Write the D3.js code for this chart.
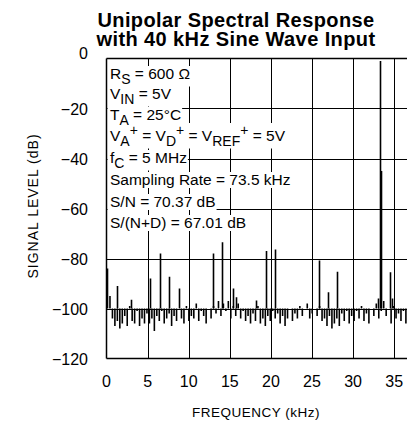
<!DOCTYPE html>
<html>
<head>
<meta charset="utf-8">
<title>Unipolar Spectral Response</title>
<style>
  body { margin: 0; background: #fff; }
  text { font-family: "Liberation Sans", Arial, sans-serif; fill: #000; }
</style>
</head>
<body>
<svg width="407" height="427"></svg>
<script src="https://d3js.org/d3.v7.min.js"></script>
<script>
// chart data
var title = ["Unipolar Spectral Response", "with 40 kHz Sine Wave Input"];
var yTicks = [0, -20, -40, -60, -80, -100, -120];
var xTicks = [0, 5, 10, 15, 20, 25, 30, 35];
var binKHz = 0.3;   // spacing of the noise floor bins
// noise floor, one value per bin (dB)
var floorDb = [-84, -95, -104, -107, -105, -108, -106,
               -103, -107, -99, -105, -106, -101, -107, -104, -106, -102,
               -106, -104, -109, -103, -105, -101, -106, -104, -102, -107, -103, -105, -100, -104, -106, -99, -105,
               -103, -104, -98, -105, -101, -103, -106, -100, -104, -99, -102, -97, -103, -98, -101, -97, -104,
               -99, -103, -98, -104, -101, -105, -103, -106, -102, -105, -99, -106, -104, -107, -103, -105,
               -101, -104, -102, -106, -103, -107, -104, -100, -105, -102, -104, -99, -103, -100, -98, -104, -102,
               -100, -103, -99, -105, -104, -107, -103, -108, -106, -104, -107, -102, -105, -101, -106, -103, -105,
               -101, -104, -99, -105, -102, -106, -100, -103, -98, -104, -101, -97, -103, -100, -106, -99, -104, -102, -105, -101, -106, -104];
// harmonics, spurs and the fundamental
var spurFreq = [1.24, 3.0, 5.3, 6.5, 7.6, 8.8, 13.0, 14.1, 15.35, 15.7, 18.2,
                19.4, 20.5, 25.85, 27.0, 28.1, 33.0, 33.3, 33.45, 34.5, 34.7];
var spurDb   = [-91, -96.5, -88, -78, -87.3, -92, -78, -73.5, -92, -95.5, -96.8,
                -77, -76.4, -80.8, -93.5, -85.3, -96, -1, -45, -85.5, -96];
var notes = [
  [["R", 0], ["S", 4.5], [" = 600 \u03A9", 0]],
  [["V", 0], ["IN", 4.5], [" = 5V", 0]],
  [["T", 0], ["A", 4.5], [" = 25\u00B0C", 0]],
  [["V", 0], ["A", 4.5], ["+", -6], [" = V", 0], ["D", 4.5], ["+", -6], [" = V", 0], ["REF", 4.5], ["+", -6], [" = 5V", 0]],
  [["f", 0], ["C", 4.5], [" = 5 MHz", 0]],
  [["Sampling Rate = 73.5 kHz", 0]],
  [["S/N = 70.37 dB", 0]],
  [["S/(N+D) = 67.01 dB", 0]]
];
var noteBaselines = [79, 99, 120, 141, 163, 185, 207, 228];

var svg = d3.select("svg");
var plotLeft = 106.5, plotTop = 58.5, plotBottom = 358.5;

var x = d3.scaleLinear().domain([0, 36.75]).range([plotLeft, 408.6]);
var y = d3.scaleLinear().domain([0, -120]).range([plotTop, plotBottom]);
function px(v) { return Math.round(v) + 0.5; }

// title
svg.selectAll("text.title")
  .data(title)
  .enter()
  .append("text")
  .attr("class", "title")
  .attr("x", 236)
  .attr("y", function(d, i) { return 26.5 + i * 19.5; })
  .attr("text-anchor", "middle")
  .style("font-size", "20px")
  .style("letter-spacing", "0.4px")
  .style("font-weight", "bold")
  .text(function(d) { return d; });

// grid
var grid = svg.append("g").attr("stroke", "#000").attr("stroke-width", 1)
  .attr("shape-rendering", "crispEdges");
grid.selectAll("line.h")
  .data(yTicks.filter(function(d) { return d < 0 && d > -120; }))
  .enter().append("line")
  .attr("x1", plotLeft).attr("x2", 407)
  .attr("y1", function(d) { return px(y(d)); })
  .attr("y2", function(d) { return px(y(d)); });
grid.selectAll("line.v")
  .data(xTicks.filter(function(d) { return d > 0; }))
  .enter().append("line")
  .attr("y1", plotTop).attr("y2", plotBottom)
  .attr("x1", function(d) { return px(x(d)); })
  .attr("x2", function(d) { return px(x(d)); });

// spectrum stems from the -100 dB line
var stems = svg.append("g").attr("stroke", "#000").attr("stroke-width", 1.6);
stems.selectAll("line.n")
  .data(floorDb)
  .enter().append("line")
  .attr("x1", function(d, i) { return x(i * binKHz) + 1; })
  .attr("x2", function(d, i) { return x(i * binKHz) + 1; })
  .attr("y1", y(-100))
  .attr("y2", function(d) { return y(d); });
stems.selectAll("line.s")
  .data(spurFreq)
  .enter().append("line")
  .attr("x1", function(d) { return px(x(d)); })
  .attr("x2", function(d) { return px(x(d)); })
  .attr("y1", y(-100))
  .attr("y2", function(d, i) { return y(spurDb[i]); });

// annotation block, white box behind each line
var boxLayer = svg.append("g");
var noteLayer = svg.append("g");
notes.forEach(function(parts, i) {
  var t = noteLayer.append("text")
    .attr("x", 110)
    .attr("y", noteBaselines[i])
    .style("font-size", "15.5px");
  var prev = 0;
  parts.forEach(function(p) {
    t.append("tspan")
      .attr("dy", p[1] - prev)
      .style("font-size", p[1] === 0 ? null : "14px")
      .text(p[0]);
    prev = p[1];
  });
  var b = t.node().getBBox();
  boxLayer.append("rect")
    .attr("fill", "#fff")
    .attr("x", plotLeft + 1)
    .attr("y", b.y + 1)
    .attr("width", b.x + b.width - plotLeft)
    .attr("height", b.height - 1);
});

// frame
var frame = svg.append("g").attr("stroke", "#000").attr("stroke-width", 1.5).attr("fill", "none");
frame.append("line").attr("x1", plotLeft).attr("x2", plotLeft).attr("y1", plotTop).attr("y2", plotBottom);
frame.append("line").attr("x1", plotLeft).attr("x2", 407).attr("y1", plotTop).attr("y2", plotTop);
frame.append("line").attr("x1", plotLeft).attr("x2", 407).attr("y1", plotBottom).attr("y2", plotBottom);

// axis labels
svg.selectAll("text.ytick")
  .data(yTicks)
  .enter().append("text")
  .attr("x", 88)
  .attr("y", function(d) { return d === 0 ? 53 : y(d) + 1; })
  .attr("text-anchor", "end")
  .attr("dominant-baseline", "central")
  .style("font-size", "16px")
  .text(function(d) { return d < 0 ? "\u2212" + Math.abs(d) : d; });

svg.selectAll("text.xtick")
  .data(xTicks)
  .enter().append("text")
  .attr("x", function(d) { return x(d); })
  .attr("y", 381)
  .attr("text-anchor", "middle")
  .attr("dominant-baseline", "central")
  .style("font-size", "16px")
  .text(function(d) { return d; });

svg.append("text")
  .attr("transform", "translate(33,206) rotate(-90)")
  .attr("text-anchor", "middle")
  .attr("dominant-baseline", "central")
  .style("font-size", "14px")
  .style("letter-spacing", "1px")
  .text("SIGNAL LEVEL (dB)");

svg.append("text")
  .attr("x", 256)
  .attr("y", 412)
  .attr("text-anchor", "middle")
  .attr("dominant-baseline", "central")
  .style("font-size", "13.5px")
  .style("letter-spacing", "0.5px")
  .text("FREQUENCY (kHz)");
</script>
</body>
</html>
